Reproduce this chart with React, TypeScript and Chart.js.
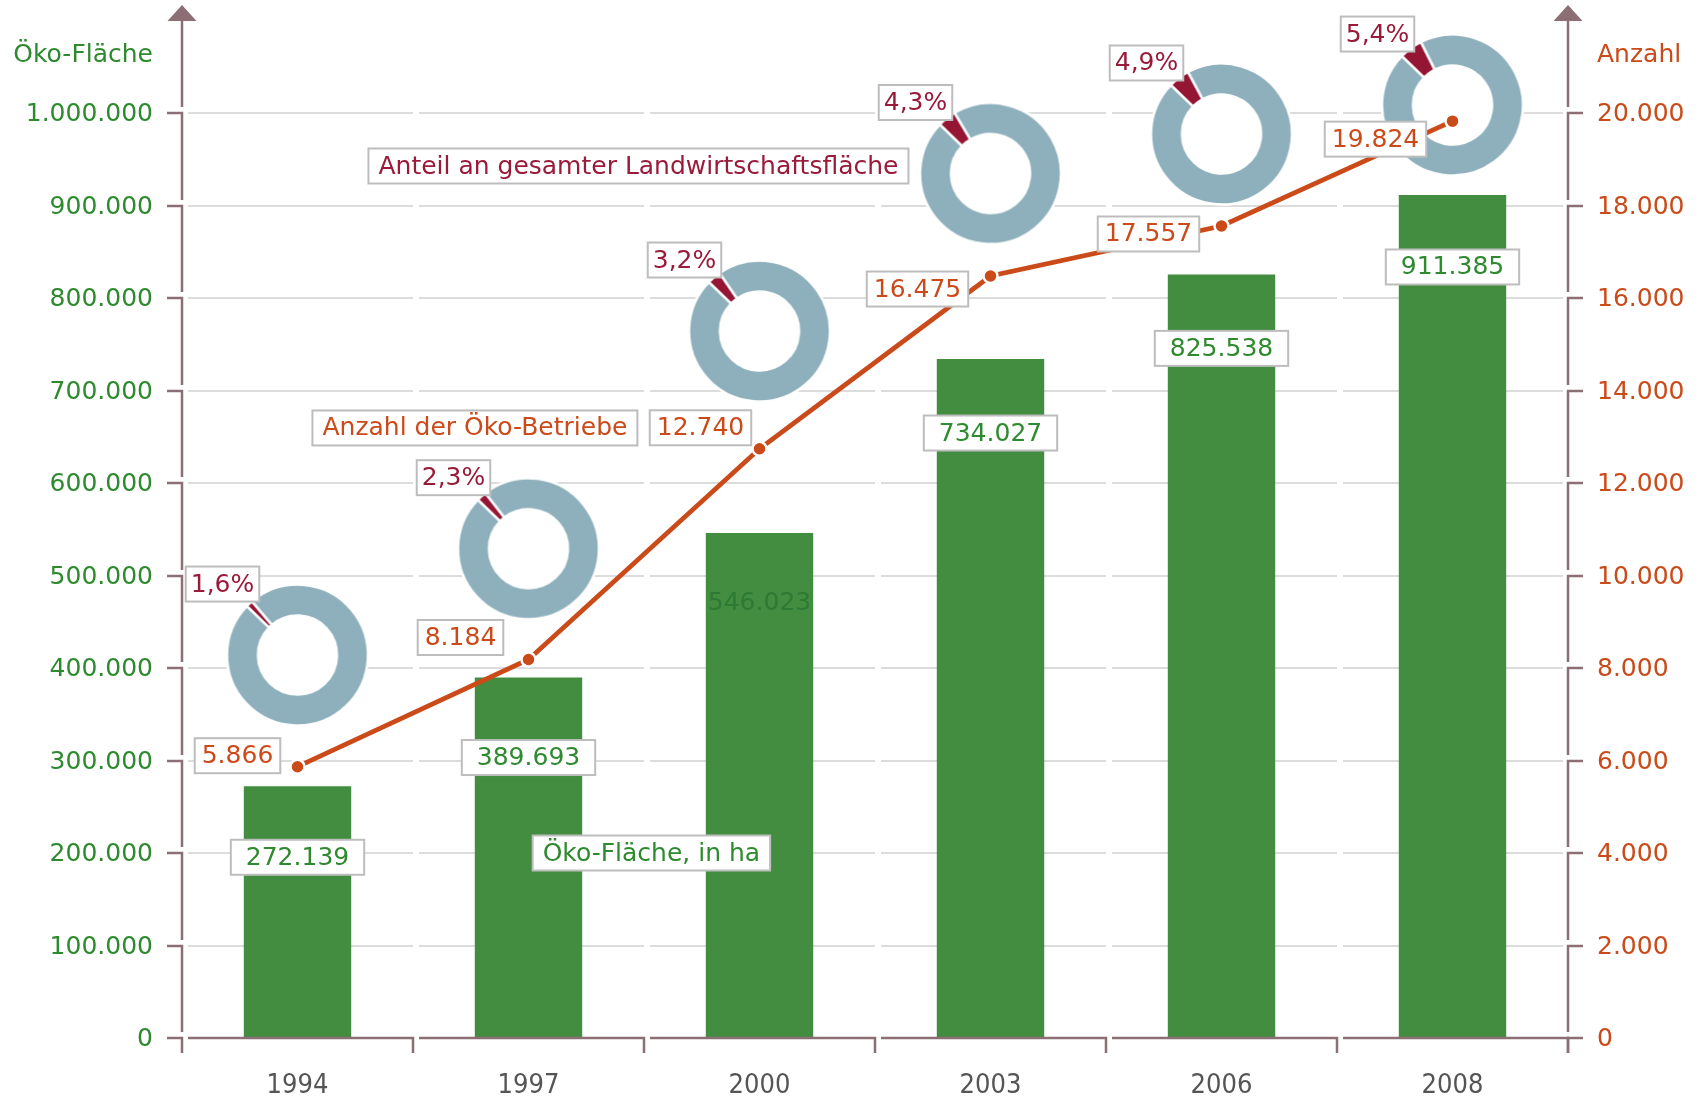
import React, { useEffect, useRef } from 'react';
import { Chart, registerables } from 'chart.js';

Chart.register(...registerables);
Chart.defaults.font.family = "'DejaVu Sans', Verdana, sans-serif";

// ---------------- data ----------------
const years = ['1994', '1997', '2000', '2003', '2006', '2008'];
const oekoFlaecheHa = [272139, 389693, 546023, 734027, 825538, 911385];
const oekoBetriebe = [5866, 8184, 12740, 16475, 17557, 19824];
const anteilProzent = [1.6, 2.3, 3.2, 4.3, 4.9, 5.4];
const yLeftTicks = [0, 100000, 200000, 300000, 400000, 500000, 600000, 700000, 800000, 900000, 1000000];
const yRightTicks = [0, 2000, 4000, 6000, 8000, 10000, 12000, 14000, 16000, 18000, 20000];
const leftTitle = 'Öko-Fläche';
const rightTitle = 'Anzahl';
const captionTexts = ['Anteil an gesamter Landwirtschaftsfläche', 'Anzahl der Öko-Betriebe', 'Öko-Fläche, in ha'];

// ---------------- layout / styles ----------------
const W = 1698;
const H = 1098;
const GREEN_BAR = '#428D40';
const GREEN_TXT = '#2E8A2E';
const GREEN_DARK = '#2C7A33';
const ORANGE = '#CB4A19';
const DARKRED = '#9A1A3A';
const DONUT_RED = '#951535';
const DONUT_BLUE = '#8EB0BC';
const AXIS = '#8C6F75';
const GRID = '#DCDCDC';
const XLABEL = '#555555';
const BOX_BORDER = '#BDBDBD';
const FONT = "25px 'DejaVu Sans', Verdana, sans-serif";

const LAYOUT = {
  leftAxisWidth: 182,
  rightAxisWidth: 130,
  xAxisHeight: 60,
  topPad: 113,
  tick: 15,
  gap: 6,
  // donut centres: x = category, y = value on left axis
  donutAnchor: [414000, 529000, 764300, 934600, 977300, 1008600],
  donutBox: 150,
  donutRadius: 70.5,
  donutInner: 39.5,
  pctOffset: [-75, -71],
  barLabelDy: [71, 80, 70, 74, 74, 72],
  barLabelBoxed: [true, true, false, true, true, true],
  lineLabelOffset: [[-60, -11], [-68, -22], [-59, -21], [-73, 13], [-73, 8], [-77, 18]],
  // caption anchors: x = category index, y = value on left axis
  captionAnchor: [[1.476, 942700], [0.768, 659500], [1.532, 200000]],
};
const captionColors = [DARKRED, ORANGE, GREEN_TXT];

const fmt = (v: number) => String(Math.round(v)).replace(/\B(?=(\d{3})+(?!\d))/g, '.');
const fmtPct = (v: number) => v.toFixed(1).replace('.', ',') + '%';

function drawBox(ctx: CanvasRenderingContext2D, text: string, cx: number, cy: number, color: string, padX: number, minW: number, boxed: boolean) {
  ctx.font = FONT;
  const w = Math.max(ctx.measureText(text).width + 2 * padX, minW);
  const h = 35;
  if (boxed) {
    ctx.fillStyle = '#ffffff';
    ctx.fillRect(cx - w / 2, cy - h / 2, w, h);
    ctx.strokeStyle = BOX_BORDER;
    ctx.lineWidth = 2;
    ctx.strokeRect(cx - w / 2, cy - h / 2, w, h);
  }
  ctx.fillStyle = color;
  ctx.textAlign = 'center';
  ctx.textBaseline = 'middle';
  ctx.fillText(text, cx, cy + 1);
}

const holePlugin = {
  id: 'hole',
  beforeDatasetsDraw(c: any) {
    const arc: any = c.getDatasetMeta(0).data[0];
    if (!arc) return;
    const ctx = c.ctx;
    ctx.save();
    ctx.fillStyle = '#ffffff';
    ctx.beginPath();
    ctx.arc(arc.x, arc.y, arc.outerRadius, 0, Math.PI * 2);
    ctx.fill();
    ctx.restore();
  },
};

function makeDonut(p: number) {
  const canvas = document.createElement('canvas');
  canvas.width = LAYOUT.donutBox;
  canvas.height = LAYOUT.donutBox;
  const chart = new Chart(canvas, {
    type: 'doughnut',
    data: {
      labels: ['Öko', 'Rest'],
      datasets: [
        {
          data: [p, 100 - p],
          backgroundColor: [DONUT_RED, DONUT_BLUE],
          borderColor: '#ffffff',
          borderWidth: 2.5,
        },
      ],
    },
    options: {
      responsive: false,
      animation: false,
      devicePixelRatio: 1,
      rotation: -46,
      radius: LAYOUT.donutRadius,
      cutout: ((LAYOUT.donutInner / LAYOUT.donutRadius) * 100).toFixed(2) + '%',
      layout: { padding: 0 },
      plugins: { legend: { display: false }, tooltip: { enabled: false } },
    } as any,
    plugins: [holePlugin],
  });
  return { canvas, chart };
}

export default function App() {
  const ref = useRef<HTMLCanvasElement>(null);

  useEffect(() => {
    const donuts = anteilProzent.map((p) => makeDonut(p));

    const decor = {
      id: 'decor',
      beforeDatasetsDraw(chart: any) {
        const { ctx, chartArea, scales } = chart;
        const { left, right } = chartArea;
        const n = years.length;
        const bw = (right - left) / n;
        ctx.save();
        // grid lines, broken at category boundaries
        ctx.strokeStyle = GRID;
        ctx.lineWidth = 2;
        scales.y.ticks.forEach((t: any) => {
          if (t.value === 0) return;
          const py = Math.round(scales.y.getPixelForValue(t.value));
          for (let i = 0; i < n; i++) {
            const b0 = left + i * bw;
            const b1 = b0 + bw;
            ctx.beginPath();
            ctx.moveTo(b0 + LAYOUT.gap, py);
            ctx.lineTo(i === n - 1 ? b1 - 5 : b1, py);
            ctx.stroke();
          }
        });
        // donuts
        donuts.forEach((d, i) => {
          const cx = scales.x.getPixelForValue(i);
          const cy = scales.y.getPixelForValue(LAYOUT.donutAnchor[i]);
          ctx.drawImage(d.canvas, cx - LAYOUT.donutBox / 2, cy - LAYOUT.donutBox / 2);
        });
        ctx.restore();
      },
      afterDatasetsDraw(chart: any) {
        const { ctx, chartArea, scales } = chart;
        const { left, right, top, bottom } = chartArea;
        const n = years.length;
        const bw = (right - left) / n;
        const T = LAYOUT.tick;
        const G = LAYOUT.gap;
        ctx.save();
        ctx.strokeStyle = AXIS;
        ctx.fillStyle = AXIS;
        ctx.lineWidth = 2.5;
        ctx.lineCap = 'butt';
        ctx.lineJoin = 'miter';
        const sides: [number, number, any, number[]][] = [
          [left, -1, scales.y, yLeftTicks],
          [right, 1, scales.y1, yRightTicks],
        ];
        sides.forEach(([ax, dir, sc, vals]) => {
          const px = vals.map((v) => Math.round(sc.getPixelForValue(v))).sort((a, b) => a - b);
          // arrow
          ctx.beginPath();
          ctx.moveTo(ax, top - 108);
          ctx.lineTo(ax - 14.5, top - 92);
          ctx.lineTo(ax + 14.5, top - 92);
          ctx.closePath();
          ctx.fill();
          ctx.beginPath();
          ctx.moveTo(ax, top - 93);
          ctx.lineTo(ax, px[0] - G);
          ctx.stroke();
          px.forEach((py, k) => {
            const ny = k < px.length - 1 ? px[k + 1] - G : bottom + T;
            ctx.beginPath();
            ctx.moveTo(ax + dir * T, py);
            ctx.lineTo(ax, py);
            ctx.lineTo(ax, ny);
            ctx.stroke();
          });
        });
        for (let i = 0; i < n; i++) {
          const b0 = left + i * bw;
          const b1 = b0 + bw;
          ctx.beginPath();
          ctx.moveTo(b0 + G, bottom);
          ctx.lineTo(b1, bottom);
          ctx.lineTo(b1, bottom + T);
          ctx.stroke();
        }

        // axis titles
        ctx.font = FONT;
        ctx.textBaseline = 'alphabetic';
        ctx.textAlign = 'right';
        ctx.fillStyle = GREEN_TXT;
        ctx.fillText(leftTitle, left - 29, top - 51);
        ctx.textAlign = 'left';
        ctx.fillStyle = ORANGE;
        ctx.fillText(rightTitle, right + 29, top - 51);

        // bar labels
        const barMeta = chart.getDatasetMeta(1);
        barMeta.data.forEach((bar: any, i: number) => {
          const boxed = LAYOUT.barLabelBoxed[i];
          drawBox(ctx, fmt(oekoFlaecheHa[i]), bar.x, bar.y + LAYOUT.barLabelDy[i], boxed ? GREEN_TXT : GREEN_DARK, 15, 0, boxed);
        });
        // line labels
        const lineMeta = chart.getDatasetMeta(0);
        lineMeta.data.forEach((pt: any, i: number) => {
          const [dx, dy] = LAYOUT.lineLabelOffset[i];
          drawBox(ctx, fmt(oekoBetriebe[i]), pt.x + dx, pt.y + dy, ORANGE, 7, 82, true);
        });
        // percentage labels
        anteilProzent.forEach((p, i) => {
          const cx = scales.x.getPixelForValue(i);
          const cy = scales.y.getPixelForValue(LAYOUT.donutAnchor[i]);
          drawBox(ctx, fmtPct(p), cx + LAYOUT.pctOffset[0], cy + LAYOUT.pctOffset[1], DARKRED, 5, 0, true);
        });
        // captions
        captionTexts.forEach((t, i) => {
          const [ix, v] = LAYOUT.captionAnchor[i];
          drawBox(ctx, t, scales.x.getPixelForValue(ix), scales.y.getPixelForValue(v), captionColors[i], 10, 0, true);
        });
        ctx.restore();
      },
    };

    const chart = new Chart(ref.current as HTMLCanvasElement, {
      type: 'bar',
      data: {
        labels: years,
        datasets: [
          {
            type: 'line',
            label: 'Anzahl der Öko-Betriebe',
            data: oekoBetriebe,
            yAxisID: 'y1',
            borderColor: ORANGE,
            backgroundColor: ORANGE,
            borderWidth: 4.7,
            pointRadius: 7,
            pointBackgroundColor: ORANGE,
            pointBorderColor: '#ffffff',
            pointBorderWidth: 2.5,
            tension: 0,
            order: 0,
            clip: false,
          } as any,
          {
            type: 'bar',
            label: 'Öko-Fläche, in ha',
            data: oekoFlaecheHa,
            yAxisID: 'y',
            backgroundColor: GREEN_BAR,
            barPercentage: 0.465,
            categoryPercentage: 1,
            order: 1,
          },
        ],
      },
      options: {
        responsive: false,
        animation: false,
        devicePixelRatio: 1,
        layout: { padding: { top: LAYOUT.topPad, left: 0, right: 0, bottom: 0 } },
        plugins: { legend: { display: false }, tooltip: { enabled: false } },
        scales: {
          x: {
            type: 'category',
            offset: true,
            grid: { display: false, drawTicks: false },
            border: { display: false },
            ticks: {
              color: XLABEL,
              font: { family: "'DejaVu Sans Condensed', 'DejaVu Sans', sans-serif", size: 27 },
              padding: 32,
              maxRotation: 0,
            },
            afterFit: (s: any) => {
              s.height = LAYOUT.xAxisHeight;
            },
          },
          y: {
            position: 'left',
            min: 0,
            max: 1000000,
            grid: { display: false, drawTicks: false },
            border: { display: false },
            afterBuildTicks: (s: any) => {
              s.ticks = yLeftTicks.map((v) => ({ value: v }));
            },
            ticks: {
              color: GREEN_TXT,
              font: { size: 25 },
              padding: 29,
              labelOffset: 1.5,
              callback: (v: any) => fmt(Number(v)),
            },
            afterFit: (s: any) => {
              s.width = LAYOUT.leftAxisWidth;
            },
          },
          y1: {
            position: 'right',
            min: 0,
            max: 20000,
            grid: { display: false, drawTicks: false },
            border: { display: false },
            afterBuildTicks: (s: any) => {
              s.ticks = yRightTicks.map((v) => ({ value: v }));
            },
            ticks: {
              color: ORANGE,
              font: { size: 25 },
              padding: 29,
              labelOffset: 1.5,
              callback: (v: any) => fmt(Number(v)),
            },
            afterFit: (s: any) => {
              s.width = LAYOUT.rightAxisWidth;
            },
          },
        },
      } as any,
      plugins: [decor],
    });

    return () => {
      chart.destroy();
      donuts.forEach((d) => d.chart.destroy());
    };
  }, []);

  return (
    <div style={{ position: 'absolute', left: 0, top: 0, width: W, height: H, background: '#ffffff' }}>
      <canvas ref={ref} width={W} height={H} style={{ display: 'block', width: W, height: H }} />
    </div>
  );
}
